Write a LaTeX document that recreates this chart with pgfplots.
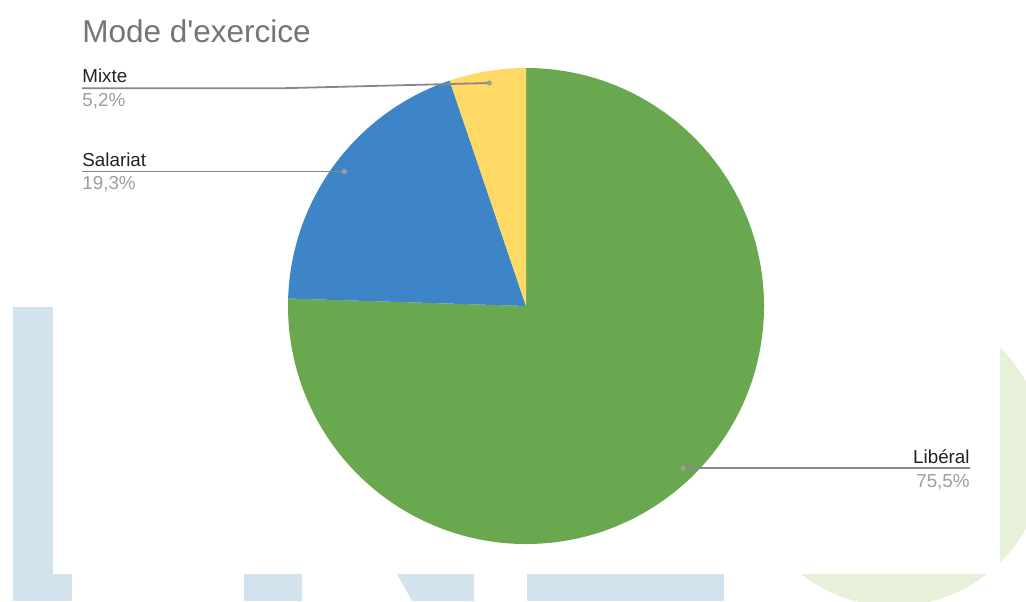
\documentclass[border=0pt]{standalone}
\usepackage{pgfplots}
\pgfplotsset{compat=1.18}
\usepackage{pgfplotstable}
\usepackage{fontspec}
\setmainfont{Liberation Sans}[Ligatures=TeXOff]

\definecolor{libgreen}{HTML}{6AA84F}
\definecolor{salblue}{HTML}{3D85C6}
\definecolor{mixyellow}{HTML}{FFD966}
\definecolor{wmblue}{HTML}{D3E3ED}
\definecolor{wmgreen}{HTML}{E7F0D8}
\definecolor{titlegray}{HTML}{757575}
\definecolor{labelgray}{HTML}{222222}
\definecolor{pctgray}{HTML}{9E9E9E}
\definecolor{leadgray}{HTML}{888888}

% share of each mode (percent): Libéral, Salariat, Mixte
\pgfplotstableread{
value
75.5
19.3
5.2
}\piedata

\newcommand\lblfont{\fontsize{9.4pt}{11pt}\selectfont}

\begin{document}
\begin{tikzpicture}
  \pgfplotstablegetelem{0}{value}\of\piedata \let\vLib\pgfplotsretval
  \pgfplotstablegetelem{1}{value}\of\piedata \let\vSal\pgfplotsretval
  \pgfplotstablegetelem{2}{value}\of\piedata \let\vMix\pgfplotsretval
  % slices run clockwise from 12 o'clock
  \pgfmathsetmacro\aLib{90-3.6*\vLib}
  \pgfmathsetmacro\aSal{\aLib-3.6*\vSal}
  \pgfmathsetmacro\aMix{\aSal-3.6*\vMix}
  \pgfmathsetmacro\mLib{(90+\aLib)/2}
  \pgfmathsetmacro\mSal{(\aLib+\aSal)/2}
  \pgfmathsetmacro\mMix{(\aSal+\aMix)/2}
  \def\R{119pt}

  \useasboundingbox (0,0) rectangle (513pt,300.5pt);
  \begin{axis}[
    at={(0,0)}, anchor=origin,
    x=0.5pt, y=0.5pt,
    xmin=0, xmax=1026, ymin=0, ymax=601,
    hide axis, clip=false,
  ]
    % watermark behind the chart
    \fill[wmblue] (axis cs:13,0) rectangle (axis cs:72,294);
    \fill[wmblue] (axis cs:244,0) rectangle (axis cs:302,27);
    \fill[wmblue] (axis cs:397,27) -- (axis cs:474,27) -- (axis cs:474,0) -- (axis cs:412,0) -- cycle;
    \fill[wmblue] (axis cs:527,0) rectangle (axis cs:724,27);
    \fill[wmgreen] (axis cs:894,146) circle[radius=75.5pt];
    \fill[white] (axis cs:53,27) rectangle (axis cs:1000,601);

    % pie
    \fill[libgreen] (axis cs:526,295) -- ++(90:\R) arc[start angle=90, end angle=\aLib, radius=\R] -- cycle;
    \fill[salblue] (axis cs:526,295) -- ++(\aLib:\R) arc[start angle=\aLib, end angle=\aSal, radius=\R] -- cycle;
    \fill[mixyellow] (axis cs:526,295) -- ++(\aSal:\R) arc[start angle=\aSal, end angle=\aMix, radius=\R] -- cycle;

    % leader dots at 95% of the radius, mid-slice
    \path (axis cs:526,295) ++(\mLib:113pt) coordinate (dLib);
    \path (axis cs:526,295) ++(\mSal:113pt) coordinate (dSal);
    \path (axis cs:526,295) ++(\mMix:113pt) coordinate (dMix);
    \coordinate (xL) at (axis cs:82,0);
    \coordinate (xR) at (axis cs:970,0);

    \draw[leadgray, line width=0.9pt] (dLib) -- (dLib -| xR);
    \draw[leadgray, line width=0.9pt] (dSal) -- (dSal -| xL);
    \draw[leadgray, line width=0.9pt] (dMix) -- (axis cs:280,512.7) -- (axis cs:82,512.7);
    \fill[pctgray] (dLib) circle[radius=1.3pt];
    \fill[pctgray] (dSal) circle[radius=1.3pt];
    \fill[pctgray] (dMix) circle[radius=1.3pt];

    % labels
    \node[anchor=base west, inner sep=0, text=titlegray, font=\fontsize{15.75pt}{18pt}\selectfont]
      at (axis cs:82,559) {Mode d'exercice};
    \node[anchor=base west, inner sep=0, text=labelgray, font=\lblfont] at (axis cs:82,518.3) {Mixte};
    \node[anchor=base west, inner sep=0, text=pctgray, font=\lblfont] at (axis cs:82,495) {5,2\%};
    \node[anchor=base west, inner sep=0, text=labelgray, font=\lblfont] at (axis cs:82,435) {Salariat};
    \node[anchor=base west, inner sep=0, text=pctgray, font=\lblfont] at (axis cs:82,412) {19,3\%};
    \node[anchor=base east, inner sep=0, text=labelgray, font=\lblfont] at (axis cs:970,138) {Libéral};
    \node[anchor=base east, inner sep=0, text=pctgray, font=\lblfont] at (axis cs:970,114) {75,5\%};
  \end{axis}
\end{tikzpicture}
\end{document}
